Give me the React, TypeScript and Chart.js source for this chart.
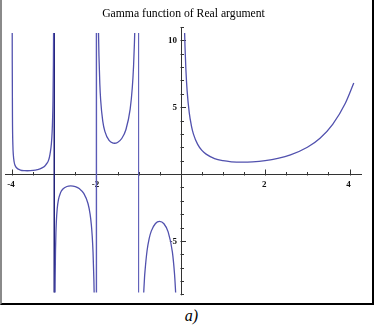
import React, { useEffect, useRef } from "react";
import { Chart, registerables } from "chart.js";

Chart.register(...registerables);

const titleText = "Gamma function of Real argument";
const captionText = "a)";

// Branch on (-4,-3)
const branchAX = [-3.9965, -3.995, -3.99, -3.98, -3.97, -3.95, -3.93, -3.9, -3.8, -3.7, -3.64, -3.5, -3.4, -3.3, -3.2, -3.1, -3.05, -3.03, -3.02, -3.015];
const branchAY = [11.97, 8.4, 4.23, 2.15, 1.46, 0.9, 0.66, 0.49, 0.3, 0.252, 0.245, 0.27, 0.326, 0.439, 0.689, 1.49, 3.14, 5.35, 8.13, 10.9];
// Branch on (-3,-2)
const branchBX = [-2.982, -2.978, -2.97, -2.96, -2.95, -2.93, -2.9, -2.85, -2.8, -2.7, -2.61, -2.5, -2.4, -2.3, -2.2, -2.15, -2.12, -2.1, -2.08, -2.06, -2.053];
const branchBY = [-9.47, -7.79, -5.77, -4.39, -3.56, -2.61, -1.92, -1.39, -1.14, -0.931, -0.888, -0.945, -1.108, -1.447, -2.205, -3.0, -3.81, -4.63, -5.86, -7.94, -9.03];
// Branch on (-2,-1)
const branchCX = [-1.952, -1.95, -1.94, -1.92, -1.9, -1.85, -1.8, -1.7, -1.6, -1.573, -1.5, -1.4, -1.3, -1.2, -1.15, -1.12, -1.1, -1.09];
const branchCY = [10.9, 10.51, 8.86, 6.79, 5.56, 3.96, 3.19, 2.51, 2.31, 2.302, 2.363, 2.66, 3.33, 4.85, 6.45, 8.07, 9.72, 10.82];
// Branch on (-1,0)
const branchDX = [-0.88, -0.875, -0.86, -0.85, -0.8, -0.75, -0.7, -0.6, -0.504, -0.4, -0.3, -0.2, -0.15, -0.13, -0.12];
const branchDY = [-8.94, -8.61, -7.75, -7.32, -5.74, -4.83, -4.27, -3.7, -3.545, -3.72, -4.33, -5.82, -7.42, -8.42, -9.04];
// Branch on (0,4.1)
const branchEX = [0.085, 0.09, 0.1, 0.12, 0.15, 0.2, 0.25, 0.3, 0.4, 0.5, 0.6, 0.8, 1.0, 1.2, 1.46, 1.7, 2.0, 2.3, 2.6, 3.0, 3.3, 3.6, 3.9, 4.1];
const branchEY = [11.27, 10.62, 9.51, 7.86, 6.22, 4.59, 3.63, 2.99, 2.22, 1.77, 1.49, 1.16, 1.0, 0.918, 0.886, 0.909, 1.0, 1.167, 1.43, 2.0, 2.68, 3.72, 5.3, 6.81];

// Vertical jumps joined across the poles
const jumpM3X = [-3, -3];
const jumpM2X = [-2, -2];
const jumpM1X = [-1, -1];
const jumpY = [12, -10];

// Axes
const xMin = -4.167;
const xMax = 4.295;
const yMin = -8.86;
const yMax = 10.55;
const yAxisTop = 11.0;
const yAxisBottom = -9.07;
const xMinorTicks = [-4, -3.5, -3, -2.5, -2, -1.5, -1, -0.5, 0.5, 1, 1.5, 2, 2.5, 3, 3.5, 4];
const xMajorTicks = [-4, -2, 2, 4];
const xTickLabels = ["-4", "-2", "2", "4"];
const yMinorTicks = [-9, -8, -7, -6, -5, -4, -3, -2, -1, 1, 2, 3, 4, 5, 6, 7, 8, 9, 10, 11];
const yMajorTicks = [10, 5, -5];
const yTickLabels = ["10", "5", "-5"];

const pts = (xs: number[], ys: number[]) => xs.map((x, i) => ({ x, y: ys[i] }));

const axesPlugin = {
  id: "mathAxes",
  beforeDatasetsDraw(chart: any) {
    const { ctx, chartArea } = chart;
    const sx = chart.scales.x;
    const sy = chart.scales.y;
    const x0 = Math.round(sx.getPixelForValue(0)) + 0.5;
    const y0 = Math.round(sy.getPixelForValue(0)) + 0.5;
    ctx.save();
    ctx.strokeStyle = "#333";
    ctx.lineWidth = 1;
    ctx.beginPath();
    ctx.moveTo(chartArea.left, y0);
    ctx.lineTo(chartArea.right, y0);
    ctx.moveTo(x0, sy.getPixelForValue(yAxisTop));
    ctx.lineTo(x0, sy.getPixelForValue(yAxisBottom));
    xMinorTicks.forEach((v) => {
      const px = Math.round(sx.getPixelForValue(v)) + 0.5;
      const len = xMajorTicks.includes(v) ? 5 : 2.5;
      ctx.moveTo(px, y0 + 1);
      ctx.lineTo(px, y0 - len);
    });
    yMinorTicks.forEach((v) => {
      const py = Math.round(sy.getPixelForValue(v)) + 0.5;
      const len = yMajorTicks.includes(v) ? 4.5 : 2.5;
      ctx.moveTo(x0 - 1, py);
      ctx.lineTo(x0 + len, py);
    });
    ctx.stroke();
    ctx.fillStyle = "#111";
    ctx.font = 'bold 9px "Liberation Serif", serif';
    ctx.textAlign = "center";
    ctx.textBaseline = "middle";
    xMajorTicks.forEach((v, i) => {
      ctx.fillText(xTickLabels[i], sx.getPixelForValue(v) - 1, y0 + 10.5);
    });
    ctx.textAlign = "right";
    yMajorTicks.forEach((v, i) => {
      ctx.fillText(yTickLabels[i], x0 - 4.5, sy.getPixelForValue(v) + 0.5);
    });
    ctx.restore();
  },
};

export default function App() {
  const canvasRef = useRef<HTMLCanvasElement | null>(null);

  useEffect(() => {
    if (!canvasRef.current) return;
    const curve = (xs: number[], ys: number[]) => ({
      data: pts(xs, ys),
      showLine: true,
      borderColor: "#5151ae",
      borderWidth: 1.3,
      pointRadius: 0,
      fill: false,
      cubicInterpolationMode: "monotone" as const,
    });
    const jump = (xs: number[], color: string, w: number) => ({
      data: pts(xs, jumpY),
      showLine: true,
      borderColor: color,
      borderWidth: w,
      pointRadius: 0,
      fill: false,
      tension: 0,
    });
    const chart = new Chart(canvasRef.current, {
      type: "scatter",
      data: {
        datasets: [
          curve(branchAX, branchAY),
          curve(branchBX, branchBY),
          curve(branchCX, branchCY),
          curve(branchDX, branchDY),
          curve(branchEX, branchEY),
          jump(jumpM3X, "#23237a", 1.5),
          jump(jumpM2X, "#5a5ab6", 1.4),
          jump(jumpM1X, "#5a5ab6", 1.1),
        ] as any,
      },
      options: {
        responsive: false,
        maintainAspectRatio: false,
        devicePixelRatio: 1,
        animation: false,
        events: [],
        elements: { line: { capBezierPoints: false } },
        layout: { padding: { left: 3, right: 12, top: 0, bottom: 10.5 } },
        scales: {
          x: { type: "linear", min: xMin, max: xMax, display: false },
          y: { type: "linear", min: yMin, max: yMax, display: false },
        },
        plugins: {
          legend: { display: false },
          tooltip: { enabled: false },
          title: {
            display: true,
            text: titleText,
            color: "#000",
            font: { family: '"Liberation Serif", serif', size: 11.7, weight: "normal" },
            padding: { top: 7, bottom: 11.96 },
          },
        },
      },
      plugins: [axesPlugin],
    });
    return () => chart.destroy();
  }, []);

  return (
    <div style={{ position: "absolute", left: 0, top: 0, width: 374, height: 329, background: "#fff" }}>
      <div
        style={{
          position: "absolute",
          left: 0,
          top: 0,
          width: 374,
          height: 305,
          boxSizing: "border-box",
          borderLeft: "2px solid #8a8a8a",
          borderRight: "2px solid #000",
          borderBottom: "2px solid #000",
        }}
      />
      <canvas
        ref={canvasRef}
        width={372}
        height={303}
        style={{ position: "absolute", left: 2, top: 0, width: 372, height: 303 }}
      />
      <div
        style={{
          position: "absolute",
          left: 9,
          top: 303,
          width: 365,
          height: 26,
          lineHeight: "26px",
          textAlign: "center",
          fontFamily: '"Liberation Serif", serif',
          fontStyle: "italic",
          fontSize: 16,
          color: "#000",
        }}
      >
        {captionText}
      </div>
    </div>
  );
}
